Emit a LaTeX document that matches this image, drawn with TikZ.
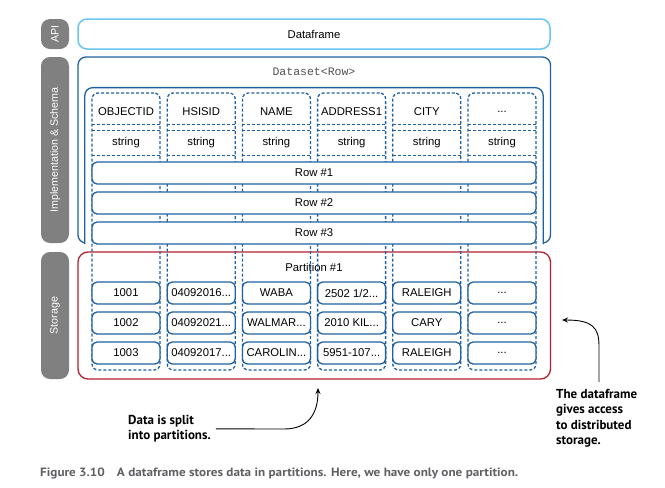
\documentclass[tikz,border=0pt]{standalone}
\usepackage{fontspec}
\usepackage{graphicx}
\setmainfont{Liberation Sans}
\newfontfamily\monofont{Liberation Mono}
\newfontfamily\annotfont{PT Sans}
\usetikzlibrary{arrows.meta}
\definecolor{dblue}{RGB}{31,97,160}
\definecolor{lblue}{RGB}{105,198,240}
\definecolor{sred}{RGB}{183,33,48}
\definecolor{lgray}{RGB}{128,128,128}
\definecolor{capgray}{RGB}{95,95,100}
\definecolor{monogray}{RGB}{80,80,80}
\tikzset{
  lbl/.style={fill=lgray, rounded corners=9pt, text=white, rotate=90, inner sep=0pt,
    font=\fontsize{10.7}{12}\selectfont},
  cellfont/.style={font=\fontsize{11.3}{13}\selectfont},
  colbox/.style={draw=dblue, line width=1.3pt, dash pattern=on 3pt off 2pt, rounded corners=6pt,
    minimum width=68pt, minimum height=277pt, inner sep=0pt},
  dashl/.style={draw=dblue, line width=1.3pt, dash pattern=on 3pt off 2pt},
  slot/.style={cellfont, minimum width=68pt, minimum height=24pt, inner sep=0pt},
  rowbox/.style={cellfont, draw=dblue, line width=1.3pt, fill=white, rounded corners=5pt,
    minimum width=444pt, minimum height=22pt, inner sep=0pt},
  cellbox/.style={cellfont, draw=dblue, line width=1.3pt, fill=white, rounded corners=5pt,
    minimum width=68pt, minimum height=22pt, inner sep=0pt},
  annot/.style={font=\annotfont\bfseries\fontsize{13}{15.5}\selectfont, align=left, inner sep=0pt},
  arr/.style={draw=black, line width=0.9pt, -{Stealth[length=6pt,width=5pt]}}
}
\newcommand\threedots{...}
\newcommand\mkcell[4]{\node[cellbox] (#1) at ({126+75.2*#2},#3) {#4};}
\begin{document}
\begin{tikzpicture}[x=1pt,y=-1pt]
\useasboundingbox (0,0) rectangle (665,488);
% left labels
\node[lbl, minimum width=30pt, minimum height=28pt] (api) at (55,34) {API};
\node[lbl, minimum width=186pt, minimum height=28pt] (impl) at (55,150) {Implementation \& Schema};
\node[lbl, minimum width=127pt, minimum height=28pt] (stor) at (55,315.5) {Storage};
% dataframe
\node[cellfont, draw=lblue, line width=1.5pt, rounded corners=9pt, minimum width=472pt, minimum height=30pt, inner sep=0pt] (df) at (314,34) {Dataframe};
% dataset outer
\node[draw=dblue, line width=1.3pt, rounded corners=8pt, minimum width=472.5pt, minimum height=186pt, inner sep=0pt] (ds) at (314.25,150) {};
\node[font=\monofont\fontsize{11.5}{13}\selectfont, text=monogray, inner sep=0pt] (dstxt) at (314,72) {Dataset<Row>};
% inner container
\node[fill=white, minimum width=458pt, minimum height=156pt, inner sep=0pt] (inner) at (314,165.8) {};
\draw[draw=dblue, line width=1.3pt, rounded corners=8pt] (inner.south west) -- (inner.north west) -- (inner.north east) -- (inner.south east);
% storage box
\node[draw=sred, line width=1.3pt, rounded corners=10pt, minimum width=472.5pt, minimum height=127pt, inner sep=0pt] (storage) at (314.25,315.5) {};
\node[cellfont, inner sep=0pt] (part) at (314,267) {Partition \#1};
% columns
\foreach \i/\hd in {0/OBJECTID,1/HSISID,2/NAME,3/ADDRESS1,4/CITY,5/\threedots}{
  \pgfmathsetmacro\cx{126+75.2*\i}
  \node[colbox] (col\i) at (\cx,231.5) {};
  \node[slot] (h\i) at (\cx,112) {\hd};
  \draw[dashl] (h\i.south west) -- (h\i.south east);
  \node[slot] (t\i) at (\cx,143) {string};
  \draw[dashl] (t\i.north west) -- (t\i.north east);
  \draw[dashl] (t\i.south west) -- (t\i.south east);
}
% rows
\node[rowbox] (r1) at (314,173) {Row \#1};
\node[rowbox] (r2) at (314,203) {Row \#2};
\node[rowbox] (r3) at (314,233) {Row \#3};
% cells
\mkcell{a0}{0}{293}{1001}
\mkcell{a1}{1}{293}{04092016...}
\mkcell{a2}{2}{293}{WABA}
\mkcell{a3}{3}{293}{2502 1/2...}
\mkcell{a4}{4}{293}{RALEIGH}
\mkcell{a5}{5}{293}{...}
\mkcell{b0}{0}{323}{1002}
\mkcell{b1}{1}{323}{04092021...}
\mkcell{b2}{2}{323}{WALMAR...}
\mkcell{b3}{3}{323}{2010 KIL...}
\mkcell{b4}{4}{323}{CARY}
\mkcell{b5}{5}{323}{...}
\mkcell{c0}{0}{353}{1003}
\mkcell{c1}{1}{353}{04092017...}
\mkcell{c2}{2}{353}{CAROLIN...}
\mkcell{c3}{3}{353}{5951-107...}
\mkcell{c4}{4}{353}{RALEIGH}
\mkcell{c5}{5}{353}{...}
% annotations
\node[annot, anchor=north west] (split) at (128,415) {Data is split\\into partitions.};
\coordinate (tipA) at (318,388);
\draw[arr] ([xshift=5pt]split.east) -- (284,429) .. controls (309,429) and (318,413) .. (tipA);
\node[annot, anchor=north west] (access) at (556,389) {The dataframe\\gives access\\to distributed\\storage.};
\coordinate (tipB) at (562,320);
\draw[arr] ([yshift=7pt]access.north -| 599,0) -- (599,346) .. controls (599,327) and (592,320) .. (tipB);
% caption
\node[anchor=west, inner sep=0pt, text=capgray, font=\annotfont\bfseries\fontsize{12}{14}\selectfont] (cap) at (40,473)
  {\resizebox{478pt}{\height}{Figure 3.10\hspace{11pt}A dataframe stores data in partitions. Here, we have only one partition.}};
\end{tikzpicture}
\end{document}
